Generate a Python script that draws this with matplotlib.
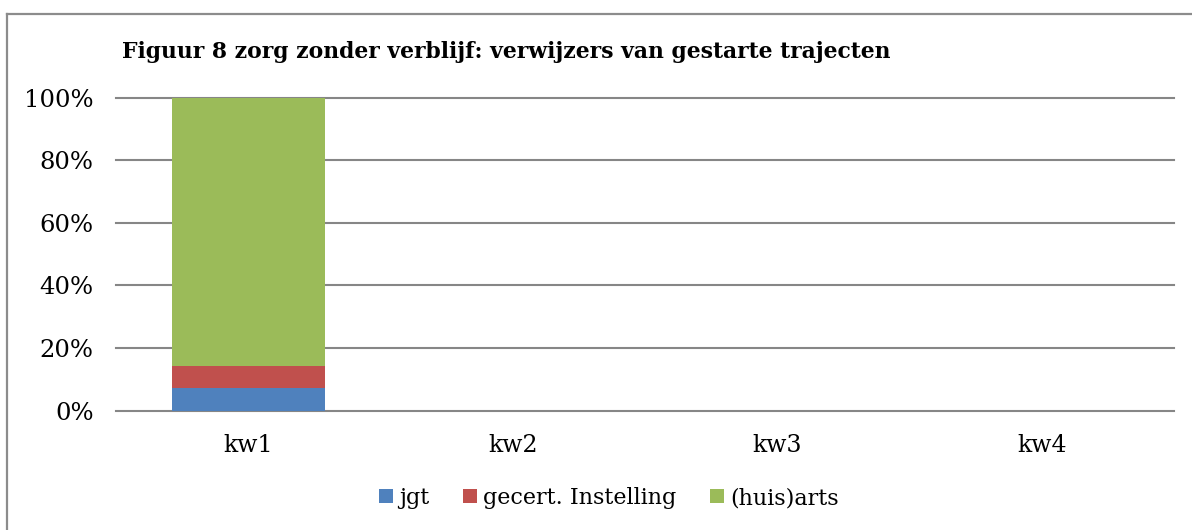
import matplotlib
matplotlib.use("Agg")
import matplotlib.pyplot as plt
import numpy as np

categories = ["kw1", "kw2", "kw3", "kw4"]
series_names = ["jgt", "gecert. Instelling", "(huis)arts"]
jgt = [7.14, 0, 0, 0]
gecert = [7.14, 0, 0, 0]
huisarts = [85.72, 0, 0, 0]
yticks = [0, 20, 40, 60, 80, 100]
ytick_labels = ["0%", "20%", "40%", "60%", "80%", "100%"]
title = "Figuur 8 zorg zonder verblijf: verwijzers van gestarte trajecten"

colors = ["#4F81BD", "#C0504D", "#9BBB59"]
grid_color = "#868686"
font = "DejaVu Serif"

W, H = 1192, 530
fig = plt.figure(figsize=(W / 100, H / 100), dpi=100)
fig.patch.set_facecolor("white")

# border (left and top visible)
fig.add_artist(plt.Line2D([6.5 / W, 6.5 / W], [0, 1 - 13.5 / H], transform=fig.transFigure,
                          color="#8C8C8C", lw=1.6))
fig.add_artist(plt.Line2D([6.5 / W, 1], [1 - 13.5 / H, 1 - 13.5 / H], transform=fig.transFigure,
                          color="#8C8C8C", lw=1.6))

left, right = 116 / W, 1174 / W
bottom, top = (H - 410.5) / H, (H - 97.7) / H
ax = fig.add_axes([left, bottom, right - left, top - bottom])

x = np.arange(len(categories))
width = 0.58
b1 = ax.bar(x, jgt, width, color=colors[0], label=series_names[0], zorder=3)
b2 = ax.bar(x, gecert, width, bottom=jgt, color=colors[1], label=series_names[1], zorder=3)
bot3 = [a + b for a, b in zip(jgt, gecert)]
b3 = ax.bar(x, huisarts, width, bottom=bot3, color=colors[2], label=series_names[2], zorder=3)

ax.set_xlim(-0.5, len(categories) - 0.5)
ax.set_ylim(0, 100)
ax.set_yticks(yticks)
ax.set_yticklabels(ytick_labels, fontfamily=font, fontsize=17.5)
ax.set_xticks(x)
ax.set_xticklabels(categories, fontfamily=font, fontsize=17)
ax.tick_params(axis="y", length=0, pad=16)
ax.tick_params(axis="x", length=0, pad=17)
for s in ax.spines.values():
    s.set_visible(False)
ax.yaxis.grid(True, color=grid_color, lw=1.5, zorder=0)
ax.set_axisbelow(True)
for gl in ax.get_ygridlines():
    gl.set_clip_on(False)

fig.text(122 / W, 1 - 52 / H, title, fontfamily=font, fontweight="bold", fontsize=15.75,
         ha="left", va="center")

leg = fig.legend(handles=[b1, b2, b3], labels=series_names, loc="center",
                 bbox_to_anchor=(609 / W, 1 - 498 / H), ncol=3, frameon=False,
                 prop={"family": font, "size": 16}, handlelength=0.62, handleheight=0.62,
                 handletextpad=0.3, columnspacing=1.5)

fig.savefig("out.png", dpi=100, facecolor="white")
